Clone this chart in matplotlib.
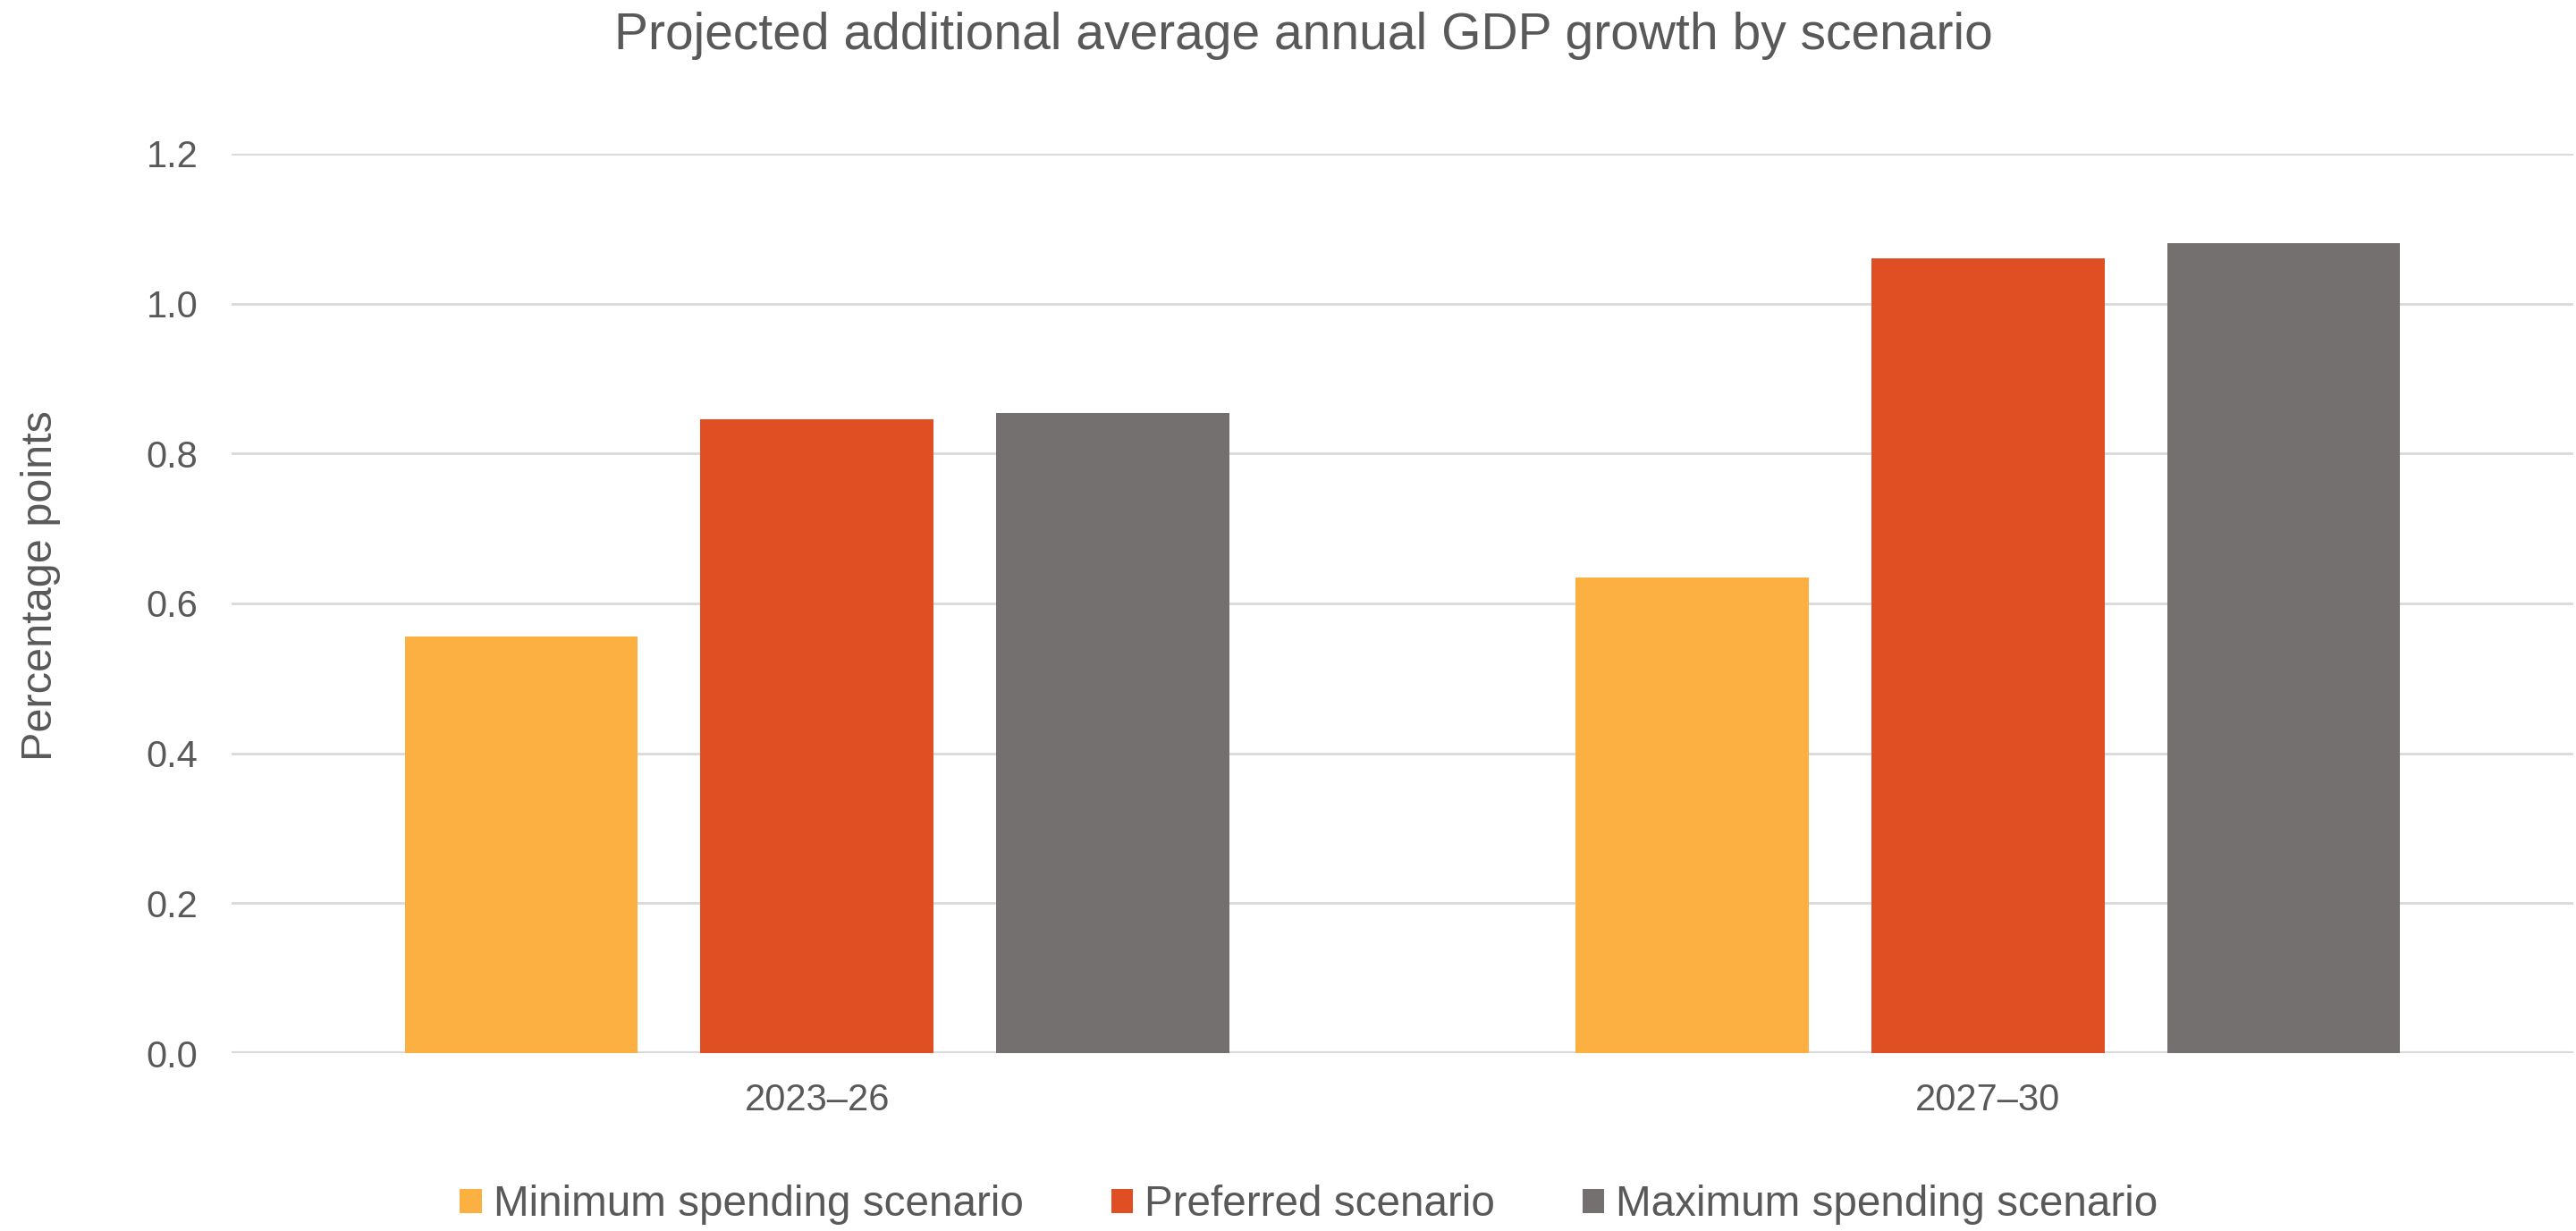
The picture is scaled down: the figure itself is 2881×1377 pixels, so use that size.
import matplotlib
matplotlib.use("Agg")
import matplotlib.pyplot as plt
import numpy as np

categories = ["2023–26", "2027–30"]
series_names = ["Minimum spending scenario", "Preferred scenario", "Maximum spending scenario"]
minimum = [0.556, 0.635]
preferred = [0.846, 1.060]
maximum = [0.854, 1.081]
yticks = [0.0, 0.2, 0.4, 0.6, 0.8, 1.0, 1.2]
colors = ["#FBB041", "#E04F24", "#747070"]

W, H = 2881, 1377
fig = plt.figure(figsize=(W / 100, H / 100), dpi=100)
ax = fig.add_axes([259 / W, 1 - 1178 / H, (2878 - 259) / W, (1178 - 172) / H])

text_color = "#595959"
font = "Liberation Sans"

x = np.arange(len(categories))
offsets = [-0.2526, 0.0, 0.2526]
width = 0.199
for vals, off, col, name in zip([minimum, preferred, maximum], offsets, colors, series_names):
    ax.bar(x + off, vals, width=width, color=col, label=name, zorder=3)

ax.set_xlim(-0.5, 1.5)
ax.set_ylim(0, 1.2)
ax.set_yticks(yticks)
ax.set_yticklabels([f"{v:.1f}" for v in yticks], fontsize=30, color=text_color, family=font)
ax.set_xticks(x)
ax.set_xticklabels(categories, fontsize=30, color=text_color, family=font)
ax.tick_params(axis="both", length=0)
ax.tick_params(axis="y", pad=27)
ax.tick_params(axis="x", pad=24)
ax.grid(axis="y", color="#D9D9D9", linewidth=2, zorder=0)
for s in ax.spines.values():
    s.set_visible(False)
ax.axhline(0, color="#D9D9D9", linewidth=3, zorder=2)

fig.text(46 / W, 1 - 655 / H, "Percentage points", rotation=90, ha="center", va="center",
         fontsize=35, color=text_color, family=font)
fig.text(1458 / W, 1 - 40 / H, "Projected additional average annual GDP growth by scenario",
         ha="center", va="center", fontsize=41, color=text_color, family=font)

leg = fig.legend(loc="center", bbox_to_anchor=(1464 / W, 1 - 1348 / H), ncol=3, frameon=False,
                 prop={"family": font, "size": 34.3}, handlelength=0.51, handleheight=0.51,
                 handletextpad=0.28, columnspacing=2.05)
for t in leg.get_texts():
    t.set_color(text_color)

fig.savefig("out.png", dpi=100, facecolor="white")
